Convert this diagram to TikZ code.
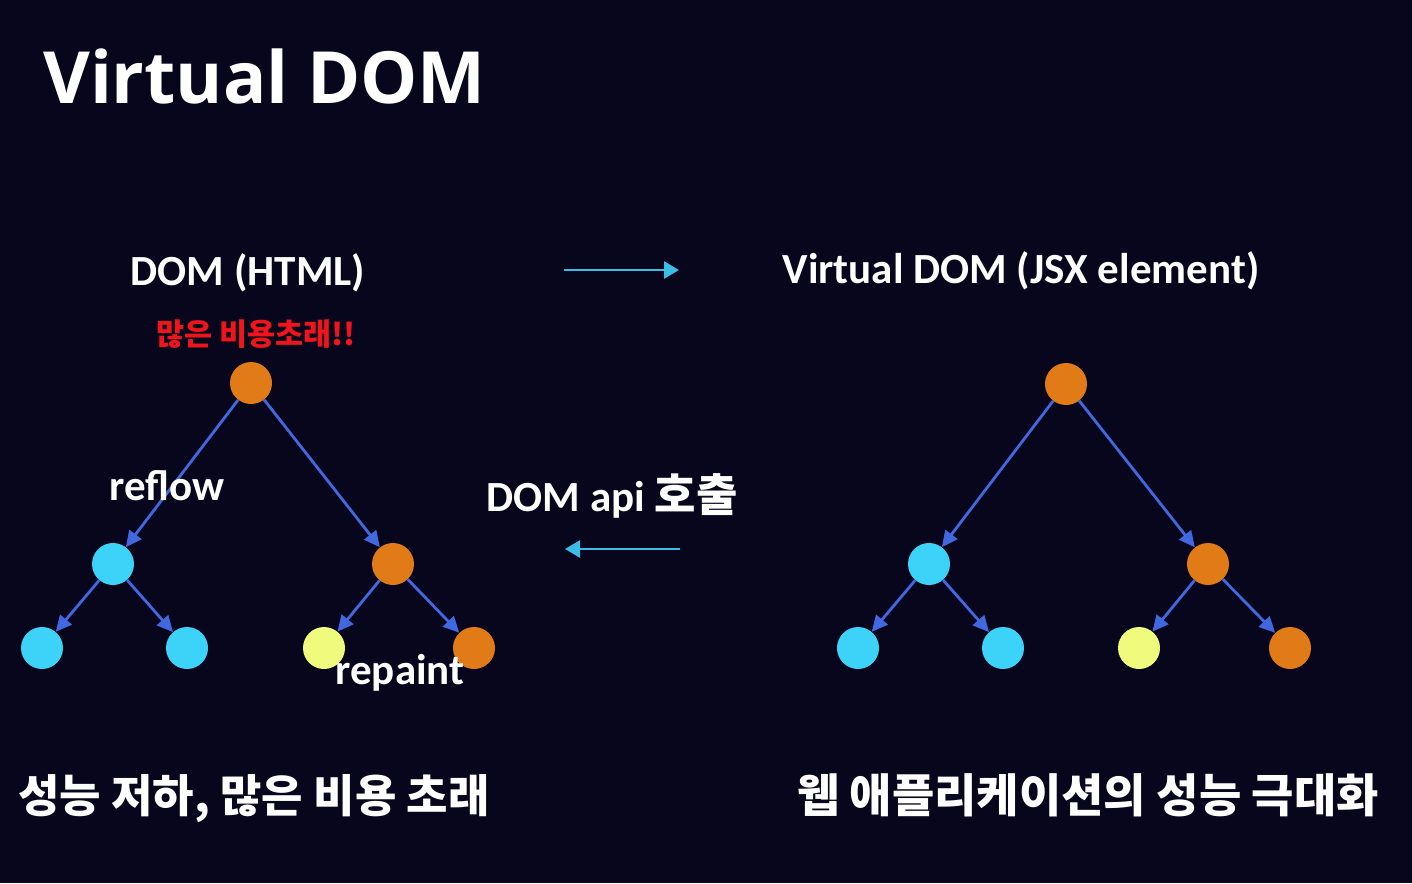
\documentclass[tikz,border=0pt]{standalone}
\usepackage{fontspec}
\setmainfont{Carlito}
\newfontfamily\kr{Noto Sans CJK KR}
\newfontfamily\ttl{Open Sans}
\usetikzlibrary{arrows.meta}
\definecolor{bg}{HTML}{07061C}
\definecolor{cy}{HTML}{3DD3F9}
\definecolor{org}{HTML}{E07B18}
\definecolor{yel}{HTML}{EFFB7C}
\definecolor{edgec}{HTML}{4168E0}
\definecolor{arr}{HTML}{3CBDE6}
\definecolor{redt}{HTML}{F0141C}
\tikzset{
  dot/.style={circle,minimum size=42pt,inner sep=0pt},
  cyn/.style={dot,fill=cy},
  orn/.style={dot,fill=org},
  yln/.style={dot,fill=yel},
  edge/.style={draw=edgec,line width=2.8pt,-{Triangle[length=16pt,width=15pt]}},
  bigarrow/.style={draw=arr,line width=2.8pt,-{Triangle[length=15pt,width=17pt]}},
  lbl/.style={text=white,inner sep=0pt,anchor=base,font=\fontsize{43}{46}\selectfont\bfseries},
  krl/.style={text=white,inner sep=0pt,anchor=base,font=\fontsize{45}{48}\selectfont\kr\bfseries},
}
\begin{document}
\begin{tikzpicture}[x=1pt,y=-1pt]
\fill[bg] (0,0) rectangle (1412,883);
\useasboundingbox (0,0) rectangle (1412,883);
% title
\node[text=white,inner sep=0pt,anchor=base west,font=\fontsize{72}{76}\selectfont\ttl\bfseries] (title) at (43,103) {Virtual DOM};
% headings
\node[lbl] (domh) at (248,285) {DOM (HTML)};
\node[lbl] (vdomh) at (1021,283) {Virtual DOM (JSX element)};
\node[text=redt,inner sep=0pt,anchor=base,font=\fontsize{30.5}{33}\selectfont\kr\bfseries] (cost) at (256,345) {많은 비용초래!!};
% left tree
\node[orn] (l1) at (251,383) {};
\node[cyn] (l2a) at (113,564) {};
\node[orn] (l2b) at (393,564) {};
\node[cyn] (l3a) at (42,648) {};
\node[cyn] (l3b) at (187,648) {};
\node[yln] (l3c) at (324,648) {};
\node[orn] (l3d) at (474,648) {};
\draw[edge] (l1) -- (l2a);
\draw[edge] (l1) -- (l2b);
\draw[edge] (l2a) -- (l3a);
\draw[edge] (l2a) -- (l3b);
\draw[edge] (l2b) -- (l3c);
\draw[edge] (l2b) -- (l3d);
\node[lbl] (reflow) at (167,500) {reflow};
\node[lbl] (repaint) at (400,684) {repaint};
% right tree
\node[orn] (r1) at (1066,384) {};
\node[cyn] (r2a) at (929,564) {};
\node[orn] (r2b) at (1208,564) {};
\node[cyn] (r3a) at (858,648) {};
\node[cyn] (r3b) at (1003,648) {};
\node[yln] (r3c) at (1139,648) {};
\node[orn] (r3d) at (1290,648) {};
\draw[edge] (r1) -- (r2a);
\draw[edge] (r1) -- (r2b);
\draw[edge] (r2a) -- (r3a);
\draw[edge] (r2a) -- (r3b);
\draw[edge] (r2b) -- (r3c);
\draw[edge] (r2b) -- (r3d);
% middle arrows
\coordinate (a1s) at (564,270);
\coordinate (a1e) at (679,270);
\draw[bigarrow] (a1s) -- (a1e);
\coordinate (a2s) at (680,549);
\coordinate (a2e) at (565,549);
\draw[bigarrow] (a2s) -- (a2e);
\node[lbl] (api) at (612,511) {DOM api {\kr\fontsize{45}{48}\selectfont 호출}};
% bottom texts
\node[krl] (bl) at (254,812) {성능 저하, 많은 비용 초래};
\node[krl,font=\fontsize{46}{50}\selectfont\kr\bfseries] (br) at (1088,812) {웹 애플리케이션의 성능 극대화};
\end{tikzpicture}
\end{document}
